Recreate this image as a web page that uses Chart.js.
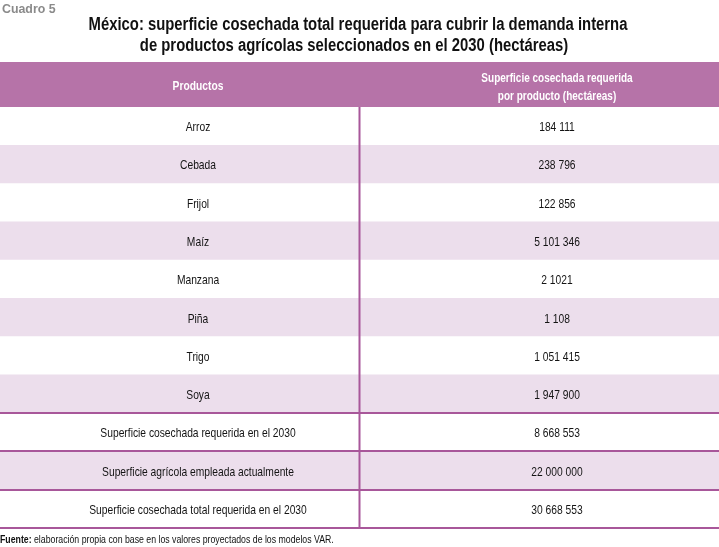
<!DOCTYPE html>
<html>
<head>
<meta charset="utf-8">
<script src="https://cdn.jsdelivr.net/npm/chart.js@4"></script>
<style>
html,body{margin:0;padding:0;background:#fff;}
canvas{display:block;}
</style>
</head>
<body>
<canvas id="c" width="719" height="547"></canvas>
<script>
// ---- data ----
const cuadro = 'Cuadro 5';
const tituloLineas = [
  'México: superficie cosechada total requerida para cubrir la demanda interna',
  'de productos agrícolas seleccionados en el 2030 (hectáreas)'
];
const encabezadoProductos = 'Productos';
const encabezadoSuperficie = ['Superficie cosechada requerida', 'por producto (hectáreas)'];
const productos = [
  'Arroz', 'Cebada', 'Frijol', 'Maíz', 'Manzana', 'Piña', 'Trigo', 'Soya',
  'Superficie cosechada requerida en el 2030',
  'Superficie agrícola empleada actualmente',
  'Superficie cosechada total requerida en el 2030'
];
const superficie = [
  '184 111', '238 796', '122 856', '5 101 346', '2 1021', '1 108', '1 051 415', '1 947 900',
  '8 668 553', '22 000 000', '30 668 553'
];
const fuenteEtiqueta = 'Fuente:';
const fuenteTexto = ' elaboración propia con base en los valores proyectados de los modelos VAR.';

// ---- style ----
const FONT = "'Liberation Sans', 'DejaVu Sans', sans-serif";
const HEADER_COLOR = '#b673a8';
const LIGHT_ROW = '#ecdeec';
const LINE_COLOR = '#a8579a';
const TEXT = '#141414';
const LEFT_C = 198 / 719, RIGHT_C = 557 / 719, DIVIDER = 0.5;
const HEADER_TOP = 62;
const FIRST_RULED_ROW = 7;
const SX = 0.79;

function txt(ctx, s, x, y, sx) {
  ctx.save();
  ctx.translate(x, y);
  ctx.scale(sx, 1);
  ctx.fillText(s, 0, 0);
  ctx.restore();
}

const tablePlugin = {
  id: 'tablePlugin',
  beforeDraw(chart) {
    const ctx = chart.ctx;
    ctx.save();
    ctx.fillStyle = '#fff';
    ctx.fillRect(0, 0, chart.width, chart.height);
    ctx.restore();
  },
  afterDatasetsDraw(chart) {
    const ctx = chart.ctx, xs = chart.scales.x, ys = chart.scales.y, a = chart.chartArea;
    const half = (ys.getPixelForValue(1) - ys.getPixelForValue(0)) / 2;
    const xl = xs.getPixelForValue(LEFT_C), xr = xs.getPixelForValue(RIGHT_C), xd = xs.getPixelForValue(DIVIDER);
    ctx.save();
    // header band
    ctx.fillStyle = HEADER_COLOR;
    ctx.fillRect(a.left, HEADER_TOP, a.right - a.left, a.top - HEADER_TOP);
    ctx.fillStyle = '#fff';
    ctx.textAlign = 'center';
    ctx.textBaseline = 'middle';
    ctx.font = 'bold 13px ' + FONT;
    const hMid = (HEADER_TOP + a.top) / 2;
    txt(ctx, encabezadoProductos, xl, hMid + 2, 0.79);
    txt(ctx, encabezadoSuperficie[0], xr, hMid - 6, 0.77);
    txt(ctx, encabezadoSuperficie[1], xr, hMid + 12, 0.77);
    // divider
    ctx.strokeStyle = LINE_COLOR;
    ctx.lineWidth = 2;
    ctx.beginPath();
    ctx.moveTo(xd, a.top);
    ctx.lineTo(xd, a.bottom);
    ctx.stroke();
    // horizontal rules
    for (let i = FIRST_RULED_ROW; i < productos.length; i++) {
      const yy = Math.round(ys.getPixelForValue(i) + half);
      ctx.beginPath();
      ctx.moveTo(a.left, yy);
      ctx.lineTo(a.right, yy);
      ctx.stroke();
    }
    // cell texts
    ctx.fillStyle = TEXT;
    ctx.font = '13px ' + FONT;
    productos.forEach((p, i) => {
      const yy = ys.getPixelForValue(i) + 1.5;
      txt(ctx, p, xl, yy, SX);
      txt(ctx, superficie[i], xr, yy, SX);
    });
    // header texts above table
    ctx.textAlign = 'left';
    ctx.fillStyle = '#8a8a8a';
    ctx.font = 'bold 13px ' + FONT;
    txt(ctx, cuadro, 2, 9, 0.95);
    ctx.textAlign = 'center';
    ctx.fillStyle = '#111';
    ctx.font = 'bold 18px ' + FONT;
    txt(ctx, tituloLineas[0], 358, 25, 0.825);
    txt(ctx, tituloLineas[1], 354, 46, 0.825);
    // footer
    ctx.textAlign = 'left';
    ctx.font = 'bold 11px ' + FONT;
    ctx.fillStyle = '#111';
    txt(ctx, fuenteEtiqueta, 0, 540, 0.795);
    const w = ctx.measureText(fuenteEtiqueta).width * 0.795;
    ctx.font = '11px ' + FONT;
    txt(ctx, fuenteTexto, w, 540, 0.795);
    ctx.restore();
  }
};

new Chart(document.getElementById('c'), {
  type: 'bar',
  data: {
    labels: productos,
    datasets: [{
      data: productos.map(() => [0, 1]),
      backgroundColor: productos.map((_, i) => i % 2 ? LIGHT_ROW : '#ffffff'),
      borderWidth: 0,
      barPercentage: 1,
      categoryPercentage: 1
    }]
  },
  options: {
    indexAxis: 'y',
    responsive: false,
    animation: false,
    events: [],
    layout: { padding: { top: 107, bottom: 19, left: 0, right: 0 } },
    plugins: { legend: { display: false }, tooltip: { enabled: false }, title: { display: false } },
    scales: {
      x: { display: false, min: 0, max: 1 },
      y: { display: false, offset: true }
    }
  },
  plugins: [tablePlugin]
});
</script>
</body>
</html>
